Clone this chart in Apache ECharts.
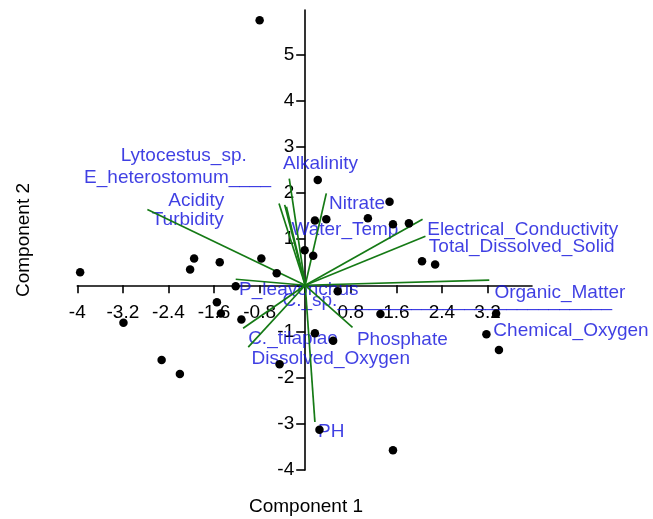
<!DOCTYPE html>
<html>
<head>
<meta charset="utf-8">
<script src="https://cdn.jsdelivr.net/npm/echarts@6/dist/echarts.min.js"></script>
<style>html,body{margin:0;padding:0;background:#fff;}#chart{width:653px;height:519px;}</style>
</head>
<body>
<div id="chart"></div>
<script>
// Sample scores (Component 1, Component 2)
const scoreX = [-0.80, 0.22, 1.48, 1.10, 1.54, 1.82, 0.17, 0.37, 2.05, 2.28, -0.01, 0.14, 0.57, 1.32, 3.35, 3.18, 3.40,
  -3.95, -3.19, -2.52, -2.20, -1.95, -2.02, -1.50, -0.77, -0.50, -1.22, -1.55, -1.48, -1.12, 0.17, 0.49, -0.45, 0.25, 1.54];
const scoreY = [5.74, 2.28, 1.81, 1.45, 1.32, 1.34, 1.40, 1.43, 0.52, 0.45, 0.76, 0.64, -0.13, -0.62, -0.61, -1.06, -1.40,
  0.28, -0.81, -1.62, -1.92, 0.58, 0.34, 0.50, 0.58, 0.26, -0.02, -0.37, -0.61, -0.74, -1.04, -1.20, -1.71, -3.13, -3.57];

// Loading vectors (end points, from origin)
const vectorX = [-2.77, -0.28, -0.46, -0.36, -0.33, 0.37, 2.06, 2.11, 3.23, -1.22, -1.09, -1.00, 0.83, 0.17];
const vectorY = [1.64, 2.31, 1.77, 1.74, 1.70, 1.99, 1.43, 1.06, 0.11, 0.13, -0.93, -1.34, -0.91, -2.96];

// Variable labels and their anchor points (data units)
const varNames = ['Lytocestus_sp.', 'E_heterostomum____', 'Acidity', 'Turbidity', 'Alkalinity', 'Nitrate', 'Water_Temp',
  'Electrical_Conductivity', 'Total_Dissolved_Solid', 'Organic_Matter', 'Chemical_Oxygen', 'P_leavonchus',
  'C._sp.__________________________', 'C._tilapiae', 'Dissolved_Oxygen', 'Phosphate', 'PH'];
const labelX = [-3.238, -3.881, -2.403, -2.694, -0.389, 0.418, -0.242, 2.141, 2.169, 3.320, 3.302, -1.160, -0.399, -1.002, -0.942, 0.907, 0.224];
const labelY = [2.807, 2.335, 1.840, 1.411, 2.630, 1.773, 1.201, 1.205, 0.833, -0.162, -0.976, -0.104, -0.337, -1.160, -1.593, -1.186, -3.171];

// Axis ticks
const xTicks = [-4, -3.2, -2.4, -1.6, -0.8, 0, 0.8, 1.6, 2.4, 3.2];
const yTicks = [-4, -3, -2, -1, 0, 1, 2, 3, 4, 5];
const xTickLabels = xTicks.filter(v => v !== 0);
const yTickLabels = yTicks.filter(v => v !== 0);

const X_MIN = -4, X_MAX = 3.98, Y_MIN = -4, Y_MAX = 5.96;
const GRID = {left: 77.3, right: 121, top: 10, bottom: 49};
const W = 653, H = 519;
const plotW = W - GRID.left - GRID.right, plotH = H - GRID.top - GRID.bottom;
// shift each axis from the grid edge onto the other axis' zero
const xAxisShift = -(0 - Y_MIN) / (Y_MAX - Y_MIN) * plotH;
const yAxisShift = -(0 - X_MIN) / (X_MAX - X_MIN) * plotW;

const FONT = 'Liberation Sans, Arial, sans-serif';
const chart = echarts.init(document.getElementById('chart'), null, {renderer: 'canvas'});

const option = {
  backgroundColor: '#ffffff',
  animation: false,
  grid: Object.assign({containLabel: false}, GRID),
  xAxis: {
    type: 'value', min: X_MIN, max: X_MAX, position: 'bottom', offset: xAxisShift,
    splitLine: {show: false},
    axisLine: {onZero: false, lineStyle: {color: '#000', width: 1.6}},
    axisTick: {show: true, length: 8, customValues: xTicks, lineStyle: {color: '#000', width: 1.6}},
    axisLabel: {customValues: xTickLabels, margin: 18, color: '#000', fontSize: 19, fontFamily: FONT,
      formatter: v => String(Math.round(v * 10) / 10)}
  },
  yAxis: {
    type: 'value', min: Y_MIN, max: Y_MAX, position: 'left', offset: yAxisShift,
    splitLine: {show: false},
    axisLine: {onZero: false, lineStyle: {color: '#000', width: 1.6}},
    axisTick: {show: true, length: 9, customValues: yTicks, lineStyle: {color: '#000', width: 1.6}},
    axisLabel: {customValues: yTickLabels, margin: 11, color: '#000', fontSize: 19, fontFamily: FONT}
  },
  graphic: [
    {type: 'text', x: 306, y: 507, z: 100, style: {text: 'Component 1', fill: '#000', font: '19px ' + FONT, textAlign: 'center', textVerticalAlign: 'middle'}},
    {type: 'text', x: 24, y: 240, rotation: Math.PI / 2, z: 100, style: {text: 'Component 2', fill: '#000', font: '19px ' + FONT, textAlign: 'center', textVerticalAlign: 'middle'}}
  ],
  series: [
    {
      type: 'scatter', name: 'labels', symbolSize: 0, z: 2, silent: true,
      data: varNames.map((n, i) => ({value: [labelX[i], labelY[i]], name: n})),
      label: {show: true, position: [0, 0], align: 'left', verticalAlign: 'middle',
        formatter: p => p.name, color: '#0f0fdc', fontSize: 19, fontFamily: FONT}
    },
    {
      type: 'lines', coordinateSystem: 'cartesian2d', z: 3, silent: true,
      lineStyle: {color: '#157a15', width: 1.7, opacity: 1},
      data: vectorX.map((x, i) => ({coords: [[0, 0], [x, vectorY[i]]]}))
    },
    {
      type: 'scatter', name: 'scores', symbol: 'circle', symbolSize: 8.5, z: 4,
      itemStyle: {color: '#000', opacity: 1},
      data: scoreX.map((x, i) => [x, scoreY[i]])
    }
  ]
};
chart.setOption(option);
</script>
</body>
</html>
